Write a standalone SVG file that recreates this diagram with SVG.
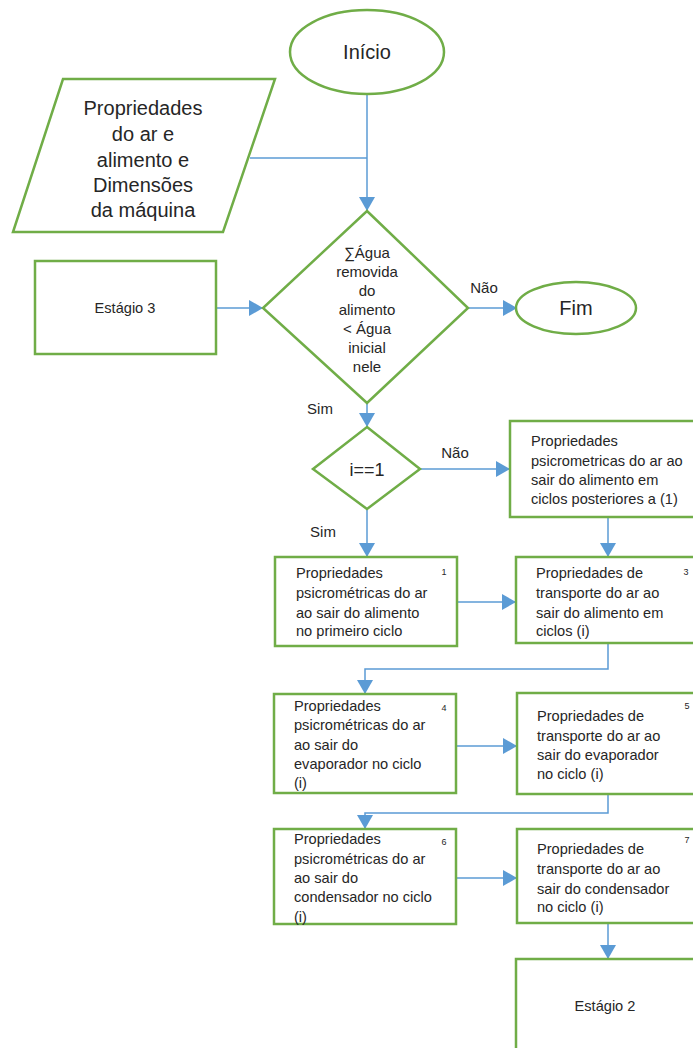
<svg xmlns="http://www.w3.org/2000/svg" width="693" height="1048" viewBox="0 0 693 1048">
<defs>
<marker id="arr" markerUnits="userSpaceOnUse" markerWidth="16" markerHeight="16" refX="14" refY="8" orient="auto">
<path d="M0,0 L14,8 L0,16 z" fill="#5B9BD5"/>
</marker>
<style>
.sh{fill:#fff;stroke:#70AD47;stroke-width:2.5}
.cn{fill:none;stroke:#5B9BD5;stroke-width:1.5}
.t{font-family:"Liberation Sans",Arial,sans-serif;fill:#262626}
.big{font-size:20px;text-anchor:middle}
.mid{font-size:15px;text-anchor:middle}
.sm{font-size:14.6px}
.num{font-size:9px;text-anchor:middle}
</style>
</defs>
<rect width="693" height="1048" fill="#fff"/>
<g id="connectors">
<path class="cn" d="M367,94 L367,211" marker-end="url(#arr)"/>
<path class="cn" d="M250,158 L367,158"/>
<path class="cn" d="M216,308 L263,308" marker-end="url(#arr)"/>
<path class="cn" d="M468,308 L517,308" marker-end="url(#arr)"/>
<path class="cn" d="M367,403 L367,427" marker-end="url(#arr)"/>
<path class="cn" d="M420,469 L510,469" marker-end="url(#arr)"/>
<path class="cn" d="M367,509 L367,557" marker-end="url(#arr)"/>
<path class="cn" d="M608,517 L608,557" marker-end="url(#arr)"/>
<path class="cn" d="M457,602 L516,602" marker-end="url(#arr)"/>
<path class="cn" d="M608,643 L608,669 L365,669 L365,694" marker-end="url(#arr)"/>
<path class="cn" d="M456,746 L517,746" marker-end="url(#arr)"/>
<path class="cn" d="M608,794 L608,813 L365,813 L365,829" marker-end="url(#arr)"/>
<path class="cn" d="M456,878 L517,878" marker-end="url(#arr)"/>
<path class="cn" d="M608,923 L608,959" marker-end="url(#arr)"/>
<text class="t mid" x="484" y="293">Não</text>
<text class="t mid" x="320" y="414">Sim</text>
<text class="t mid" x="455" y="458">Não</text>
<text class="t mid" x="323" y="537">Sim</text>
</g>
<g id="inicio">
<ellipse class="sh" cx="367" cy="52" rx="77" ry="42"/>
<text class="t big" x="367" y="59">Início</text>
</g>
<g id="entrada">
<polygon class="sh" points="63,79 275,79 223,232 13,232"/>
<text class="t big" x="143" y="115">Propriedades</text>
<text class="t big" x="143" y="141">do ar e</text>
<text class="t big" x="143" y="167">alimento e</text>
<text class="t big" x="143" y="192">Dimensões</text>
<text class="t big" x="143" y="217">da máquina</text>
</g>
<g id="decisao1">
<polygon class="sh" points="367,211 468,308 367,403 263,308"/>
<text class="t mid" x="367" y="258">∑Água</text>
<text class="t mid" x="367" y="277">removida</text>
<text class="t mid" x="367" y="296">do</text>
<text class="t mid" x="367" y="315">alimento</text>
<text class="t mid" x="367" y="334">&lt; Água</text>
<text class="t mid" x="367" y="353">inicial</text>
<text class="t mid" x="367" y="372">nele</text>
</g>
<g id="estagio3">
<rect class="sh" x="35" y="261" width="181" height="93"/>
<text class="t sm" x="125" y="313" text-anchor="middle">Estágio 3</text>
</g>
<g id="fim">
<ellipse class="sh" cx="576" cy="308" rx="60" ry="26"/>
<text class="t big" x="576" y="315">Fim</text>
</g>
<g id="decisao2">
<polygon class="sh" points="367,427 420,469 367,509 313,469"/>
<text class="t big" x="367" y="476" style="font-size:18px">i==1</text>
</g>
<g id="posteriores">
<rect class="sh" x="510" y="421" width="200" height="96"/>
<text class="t sm" x="531" y="446">Propriedades</text>
<text class="t sm" x="531" y="466">psicrometricas do ar ao</text>
<text class="t sm" x="531" y="485">sair do alimento em</text>
<text class="t sm" x="531" y="504">ciclos posteriores a (1)</text>
</g>
<g id="n1">
<rect class="sh" x="275" y="557" width="182" height="89"/>
<text class="t sm" x="296" y="578">Propriedades</text>
<text class="t sm" x="296" y="598">psicrométricas do ar</text>
<text class="t sm" x="296" y="618">ao sair do alimento</text>
<text class="t sm" x="296" y="636">no primeiro ciclo</text>
<text class="t num" x="444" y="575">1</text>
</g>
<g id="n3">
<rect class="sh" x="516" y="557" width="194" height="86"/>
<text class="t sm" x="536" y="578">Propriedades de</text>
<text class="t sm" x="536" y="598">transporte do ar ao</text>
<text class="t sm" x="536" y="618">sair do alimento em</text>
<text class="t sm" x="536" y="636">ciclos (i)</text>
<text class="t num" x="686" y="575">3</text>
</g>
<g id="n4">
<rect class="sh" x="274" y="694" width="182" height="99"/>
<text class="t sm" x="294" y="711">Propriedades</text>
<text class="t sm" x="294" y="730">psicrométricas do ar</text>
<text class="t sm" x="294" y="750">ao sair do</text>
<text class="t sm" x="294" y="769">evaporador no ciclo</text>
<text class="t sm" x="294" y="788">(i)</text>
<text class="t num" x="444" y="711">4</text>
</g>
<g id="n5">
<rect class="sh" x="517" y="693" width="193" height="101"/>
<text class="t sm" x="537" y="721">Propriedades de</text>
<text class="t sm" x="537" y="741">transporte do ar ao</text>
<text class="t sm" x="537" y="760">sair do evaporador</text>
<text class="t sm" x="537" y="779">no ciclo (i)</text>
<text class="t num" x="687" y="709">5</text>
</g>
<g id="n6">
<rect class="sh" x="274" y="829" width="182" height="95"/>
<text class="t sm" x="294" y="844">Propriedades</text>
<text class="t sm" x="294" y="864">psicrométricas do ar</text>
<text class="t sm" x="294" y="883">ao sair do</text>
<text class="t sm" x="294" y="902">condensador no ciclo</text>
<text class="t sm" x="294" y="922">(i)</text>
<text class="t num" x="444" y="845">6</text>
</g>
<g id="n7">
<rect class="sh" x="517" y="829" width="193" height="94"/>
<text class="t sm" x="537" y="854">Propriedades de</text>
<text class="t sm" x="537" y="874">transporte do ar ao</text>
<text class="t sm" x="537" y="894">sair do condensador</text>
<text class="t sm" x="537" y="912">no ciclo (i)</text>
<text class="t num" x="687" y="843">7</text>
</g>
<g id="estagio2">
<rect class="sh" x="516" y="959" width="194" height="110"/>
<text class="t sm" x="605" y="1011" text-anchor="middle">Estágio 2</text>
</g>
</svg>
